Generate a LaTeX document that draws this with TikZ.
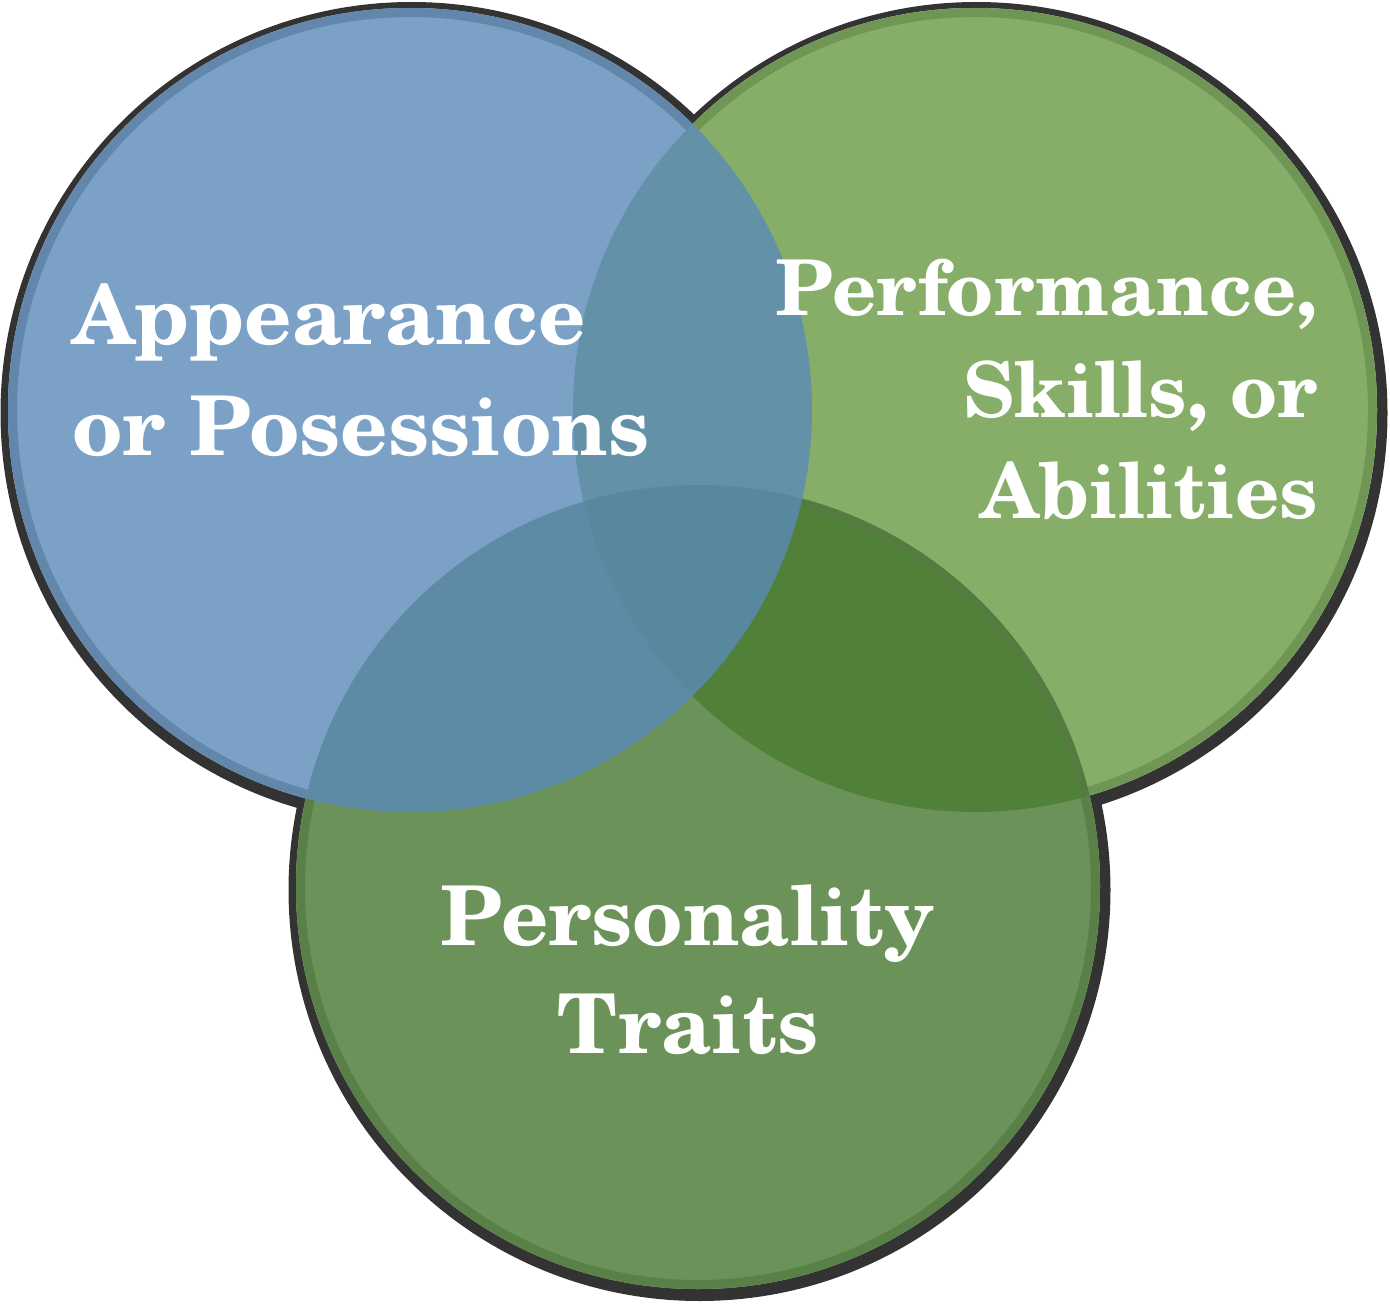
\documentclass[tikz,border=0pt]{standalone}
\usepackage{fontspec}
\setmainfont{texgyreschola}[Extension=.otf, UprightFont=*-regular, BoldFont=*-bold]
\definecolor{outl}{RGB}{51,51,51}
\definecolor{blueC}{RGB}{90,138,184}
\definecolor{blueR}{RGB}{94,128,165}
\definecolor{grnC}{RGB}{134,174,104}
\definecolor{grnR}{RGB}{112,150,86}
\definecolor{botC}{RGB}{68,118,45}
\definecolor{botR}{RGB}{85,123,67}
\tikzset{
  lbl/.style={text=white, inner sep=0pt},
  bigtxt/.style={lbl, font=\fontsize{82.5}{99}\selectfont\bfseries},
  midtxt/.style={lbl, font=\fontsize{77}{92}\selectfont\bfseries},
  ring/.style={line width=9pt},
}
\begin{document}
\begin{tikzpicture}[x=1pt,y=-1pt]
\useasboundingbox (0,0) rectangle (1390,1316);
% centres
\coordinate (cb) at (410,410);
\coordinate (cg) at (975,410);
\coordinate (cp) at (698,887);
% outer dark outline
\foreach \c in {cb,cg,cp}{
  \fill[outl] ([shift={(1.5,3)}]\c) circle (411);
}
\foreach \c in {cb,cg,cp}{
  \fill[white] (\c) circle (402);
}
% right green
\fill[grnC] (cg) circle (402);
\begin{scope}[even odd rule]
  \clip (0,0) rectangle (1390,1316) (cb) circle (402);
  \begin{scope}[even odd rule]
    \clip (0,0) rectangle (1390,1316) (cp) circle (402);
    \draw[grnR, ring] (cg) circle (397.5);
  \end{scope}
\end{scope}
% bottom green
\fill[botC, opacity=0.79] (cp) circle (402);
\begin{scope}[even odd rule]
  \clip (0,0) rectangle (1390,1316) (cb) circle (402);
  \draw[botR, ring, opacity=0.79] (cp) circle (397.5);
\end{scope}
% blue
\fill[blueC, opacity=0.8] (cb) circle (402);
\begin{scope}[even odd rule]
  \clip (0,0) rectangle (1390,1316) (cg) circle (402);
  \begin{scope}[even odd rule]
    \clip (0,0) rectangle (1390,1316) (cp) circle (402);
    \draw[blueR, ring, opacity=0.8] (cb) circle (397.5);
  \end{scope}
\end{scope}
% labels
\node[bigtxt, anchor=base west] (app1) at (72,344) {Appearance};
\node[bigtxt, anchor=base west] (app2) at (72,455) {or Posessions};
\node[midtxt, anchor=base east] (per1) at (1318,315) {Performance,};
\node[midtxt, anchor=base east] (per2) at (1318,417) {Skills, or};
\node[midtxt, anchor=base east] (per3) at (1318,518) {Abilities};
\node[bigtxt, anchor=base] (pers1) at (688,945) {Personality};
\node[bigtxt, anchor=base] (pers2) at (688,1053) {Traits};
\end{tikzpicture}
\end{document}
